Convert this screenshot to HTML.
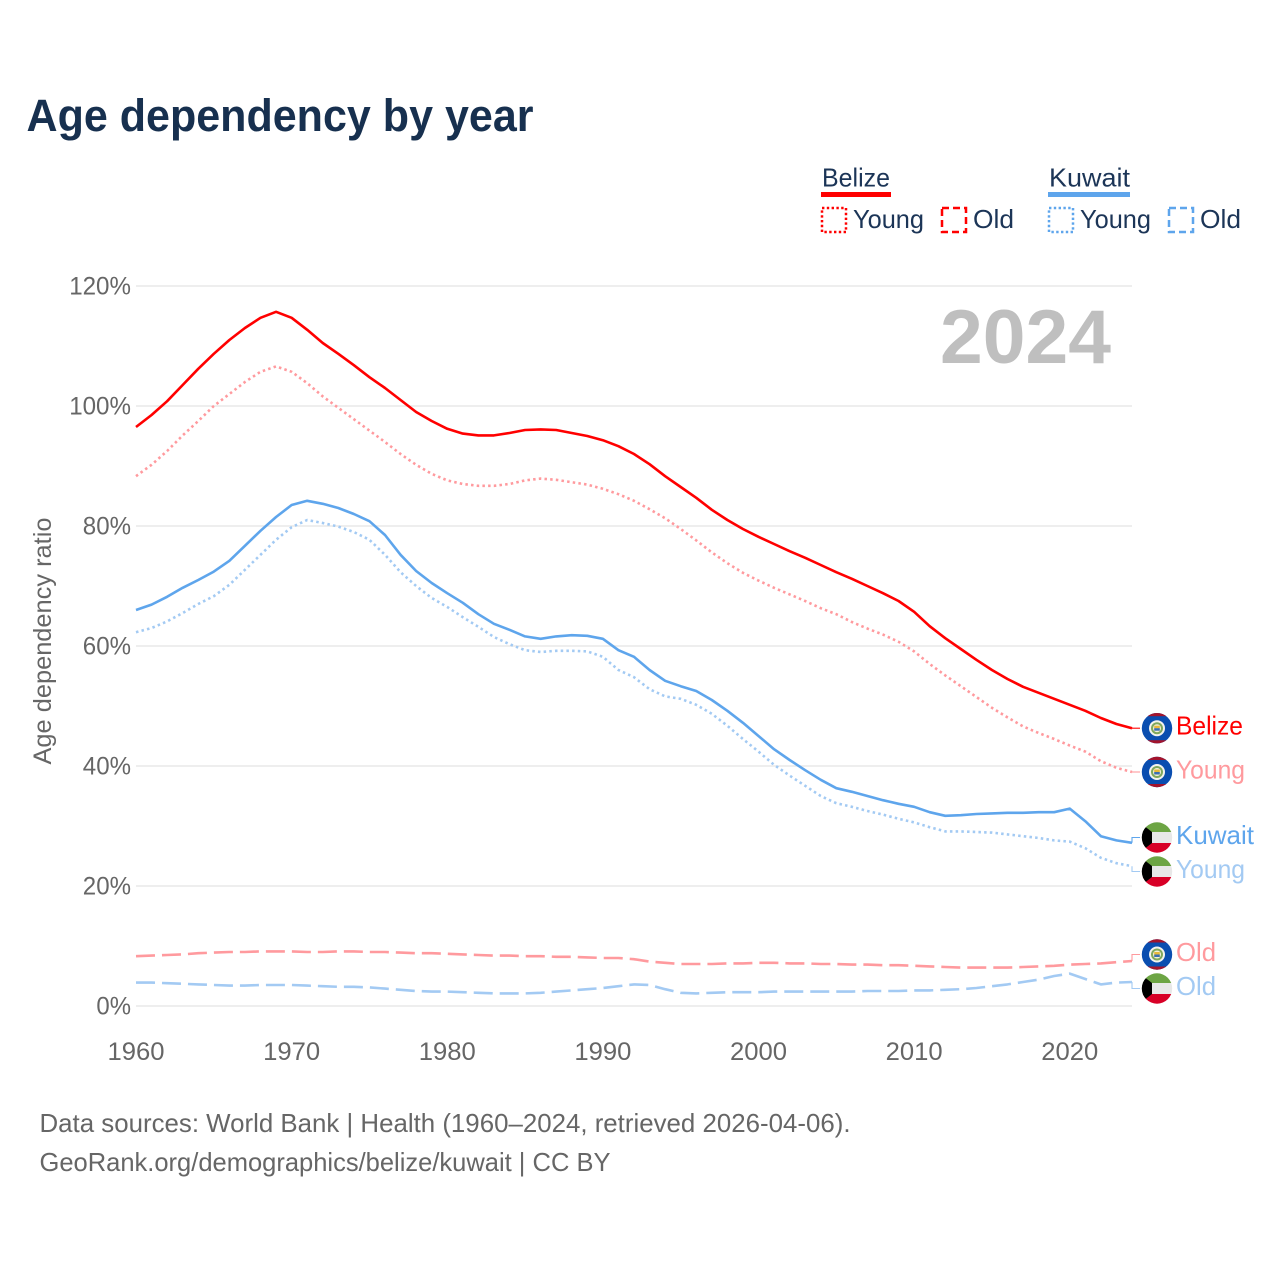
<!DOCTYPE html>
<html lang="en">
<head>
<meta charset="utf-8">
<title>Age dependency by year</title>
<style>
html,body{margin:0;padding:0;background:#fff}
svg{display:block}
text{font-family:"Liberation Sans",sans-serif}
</style>
</head>
<body>
<svg id="chart" width="1280" height="1280" viewBox="0 0 1280 1280" xmlns="http://www.w3.org/2000/svg">
<rect width="1280" height="1280" fill="#fff"/>
<text x="26.5" y="131" font-size="45" font-weight="700" fill="#17304f" textLength="507" lengthAdjust="spacingAndGlyphs">Age dependency by year</text>

<g font-size="26" fill="#1c3557">
<text x="822" y="186.5" textLength="68" lengthAdjust="spacingAndGlyphs">Belize</text>
<rect x="821" y="192" width="70" height="5" fill="#ff0000"/>
<rect x="822" y="208" width="24" height="24" fill="none" stroke="#ff0000" stroke-width="2.5" stroke-dasharray="2.4 2.4"/>
<text x="853" y="228" textLength="71" lengthAdjust="spacingAndGlyphs">Young</text>
<rect x="942" y="208" width="24" height="24" fill="none" stroke="#ff0000" stroke-width="2.5" stroke-dasharray="7 4"/>
<text x="973" y="228" textLength="41" lengthAdjust="spacingAndGlyphs">Old</text>
<text x="1049" y="186.5" textLength="81" lengthAdjust="spacingAndGlyphs">Kuwait</text>
<rect x="1048" y="192" width="82" height="5" fill="#5ea5ec"/>
<rect x="1049" y="208" width="24" height="24" fill="none" stroke="#5ea5ec" stroke-width="2.5" stroke-dasharray="2.4 2.4"/>
<text x="1080" y="228" textLength="71" lengthAdjust="spacingAndGlyphs">Young</text>
<rect x="1169" y="208" width="24" height="24" fill="none" stroke="#5ea5ec" stroke-width="2.5" stroke-dasharray="7 4"/>
<text x="1200" y="228" textLength="41" lengthAdjust="spacingAndGlyphs">Old</text>
</g>

<g id="grid"></g>
<g id="yticks"></g>
<g id="xticks"></g>
<text transform="translate(51,641) rotate(-90)" text-anchor="middle" font-size="25" fill="#666" textLength="247" lengthAdjust="spacingAndGlyphs">Age dependency ratio</text>
<text x="940" y="363" font-size="76" font-weight="700" fill="#bfbfbf" textLength="171" lengthAdjust="spacingAndGlyphs">2024</text>
<g id="lines"></g>
<g id="labels"></g>

<text x="39.5" y="1132" font-size="26" fill="#666" textLength="811" lengthAdjust="spacingAndGlyphs">Data sources: World Bank | Health (1960–2024, retrieved 2026-04-06).</text>
<text x="39.5" y="1171" font-size="26" fill="#666" textLength="571" lengthAdjust="spacingAndGlyphs">GeoRank.org/demographics/belize/kuwait | CC BY</text>
</svg>
<script>
const firstYear = 1960;
const yTickValues = [0, 20, 40, 60, 80, 100, 120];
const xTickValues = [1960, 1970, 1980, 1990, 2000, 2010, 2020];

const belizeTotal = [96.5,98.5,100.8,103.5,106.2,108.7,111,113,114.7,115.7,114.7,112.7,110.5,108.7,106.8,104.8,103,101,99,97.5,96.2,95.4,95.1,95.1,95.5,96,96.1,96,95.5,95,94.3,93.3,92,90.3,88.3,86.5,84.7,82.7,81,79.5,78.2,77,75.8,74.7,73.5,72.3,71.2,70,68.8,67.5,65.7,63.3,61.3,59.5,57.7,56,54.5,53.2,52.2,51.2,50.2,49.2,48,47,46.3];
const belizeYoung = [88.3,90.2,92.5,95.1,97.5,100,102,104,105.7,106.6,105.7,103.8,101.6,99.7,97.8,95.9,94,92,90.2,88.7,87.6,87,86.7,86.7,87,87.6,87.9,87.7,87.3,86.9,86.2,85.3,84.2,82.8,81.3,79.5,77.6,75.6,73.8,72.2,70.9,69.7,68.6,67.5,66.3,65.3,64,62.9,61.9,60.7,59.1,57,55.1,53.3,51.5,49.7,48.1,46.6,45.5,44.5,43.4,42.4,40.8,39.7,39];
const belizeOld = [8.3,8.4,8.5,8.6,8.8,8.9,9,9,9.1,9.1,9.1,9,9,9.1,9.1,9,9,8.9,8.8,8.8,8.7,8.6,8.5,8.4,8.4,8.3,8.3,8.2,8.2,8.1,8,8,7.8,7.4,7.2,7,7,7,7.1,7.1,7.2,7.2,7.1,7.1,7,7,6.9,6.9,6.8,6.8,6.7,6.6,6.5,6.4,6.4,6.4,6.4,6.5,6.6,6.7,6.9,7,7.1,7.3,7.5];
const kuwaitTotal = [66,66.9,68.2,69.7,71,72.4,74.2,76.7,79.2,81.5,83.5,84.2,83.7,83,82,80.8,78.5,75.2,72.5,70.5,68.8,67.2,65.3,63.7,62.7,61.6,61.2,61.6,61.8,61.7,61.2,59.3,58.2,56,54.2,53.3,52.5,51,49.2,47.2,45,42.8,41,39.3,37.7,36.3,35.7,35,34.3,33.7,33.2,32.3,31.7,31.8,32,32.1,32.2,32.2,32.3,32.3,32.9,30.8,28.3,27.6,27.2];
const kuwaitYoung = [62.3,63,64.1,65.5,67,68.3,70.2,72.7,75.2,77.7,79.8,81,80.5,79.9,79,77.7,75.2,72.3,70,68,66.5,64.8,63.2,61.5,60.3,59.3,59,59.2,59.2,59.1,58.2,56,54.8,52.8,51.6,51.2,50.2,48.7,46.7,44.5,42.4,40.2,38.4,36.7,35,33.8,33.2,32.5,31.9,31.2,30.6,29.8,29.1,29.1,29,28.9,28.6,28.3,28,27.6,27.4,26.3,24.7,23.8,23.3];
const kuwaitOld = [3.9,3.9,3.8,3.7,3.6,3.5,3.4,3.4,3.5,3.5,3.5,3.4,3.3,3.2,3.2,3.1,2.9,2.7,2.5,2.4,2.4,2.3,2.2,2.1,2.1,2.1,2.2,2.4,2.6,2.8,3,3.3,3.6,3.5,2.8,2.2,2.1,2.2,2.3,2.3,2.3,2.4,2.4,2.4,2.4,2.4,2.4,2.5,2.5,2.5,2.6,2.6,2.7,2.8,3,3.3,3.6,4,4.4,5,5.4,4.5,3.6,3.9,4];

const seriesList = [
  {key:'belize-total', name:'Belize', country:'belize', values:belizeTotal, color:'#ff0000', dash:null},
  {key:'belize-young', name:'Young', country:'belize', values:belizeYoung, color:'#ff9a9e', dash:'2.5 3.2'},
  {key:'kuwait-total', name:'Kuwait', country:'kuwait', values:kuwaitTotal, color:'#5ea5ec', dash:null},
  {key:'kuwait-young', name:'Young', country:'kuwait', values:kuwaitYoung, color:'#a3caf3', dash:'2.5 3.2'},
  {key:'belize-old', name:'Old', country:'belize', values:belizeOld, color:'#ff9a9e', dash:'19 7'},
  {key:'kuwait-old', name:'Old', country:'kuwait', values:kuwaitOld, color:'#a3caf3', dash:'19 7'}
];

const NS = 'http://www.w3.org/2000/svg';
function xScale(year){ return 136 + (year - 1960) * 15.5625; }
function yScale(v){ return 1006 - v * 6; }
function make(tag, attrs, parent){
  const el = document.createElementNS(NS, tag);
  for (const k in attrs) el.setAttribute(k, attrs[k]);
  parent.appendChild(el);
  return el;
}
const grid = document.getElementById('grid');
const yticks = document.getElementById('yticks');
const xticks = document.getElementById('xticks');
const linesG = document.getElementById('lines');
const labelsG = document.getElementById('labels');

yTickValues.forEach(function(v){
  const g = make('line', {x1:136, x2:1132, y1:yScale(v), y2:yScale(v), stroke:'#e9e9e9', 'stroke-width':1.5}, grid);
  
  
  const t = make('text', {x:131, y:yScale(v)+8.5, 'text-anchor':'end', 'font-size':25, fill:'#666'}, yticks);
  
  
  t.setAttribute('textLength', String(v).length * 13.6 + 21);
  t.setAttribute('lengthAdjust', 'spacingAndGlyphs');
  t.textContent = v + '%';
});
xTickValues.forEach(function(y){
  const t = make('text', {x:xScale(y), y:1060, 'text-anchor':'middle', 'font-size':25, fill:'#666'}, xticks);
  
  
  t.setAttribute('textLength', 57);
  t.setAttribute('lengthAdjust', 'spacingAndGlyphs');
  t.textContent = y;
});

/* draw order: background series first */
[seriesList[5], seriesList[4], seriesList[3], seriesList[1], seriesList[2], seriesList[0]].forEach(function(s){
  const d = s.values.map(function(v,i){ return (i ? 'L' : 'M') + xScale(firstYear+i).toFixed(2) + ' ' + yScale(v).toFixed(2); }).join(' ');
  const p = make('path', {d:d, fill:'none', stroke:s.color, 'stroke-width':2.6, 'stroke-linejoin':'round'}, linesG);
  if (s.dash) p.setAttribute('stroke-dasharray', s.dash);
  
  
});

/* dodge end labels so they keep a minimum separation */
const SEP = 34;
function dodge(items){
  const sorted = items.slice().sort(function(a,b){ return a.y0 - b.y0; });
  let clusters = sorted.map(function(it){ return {items:[it], mean:it.y0}; });
  let merged = true;
  while (merged){
    merged = false;
    for (let i=0;i<clusters.length-1;i++){
      const a = clusters[i], b = clusters[i+1];
      const aBottom = a.mean + (a.items.length-1)*SEP/2;
      const bTop = b.mean - (b.items.length-1)*SEP/2;
      if (bTop - aBottom < SEP){
        const all = a.items.concat(b.items);
        clusters.splice(i,2,{items:all, mean:all.reduce(function(s,x){return s+x.y0;},0)/all.length});
        merged = true; break;
      }
    }
  }
  clusters.forEach(function(c){
    c.items.forEach(function(it,i){ it.y = c.mean + (i-(c.items.length-1)/2)*SEP; });
  });
}
const endItems = seriesList.map(function(s){ return {s:s, y0:yScale(s.values[s.values.length-1])}; });
dodge(endItems);

let clipCount = 0;
function drawFlag(country, cx, cy, parent){
  const id = 'flag-clip-' + (clipCount++);
  const cp = make('clipPath', {id:id}, parent);
  make('circle', {cx:cx, cy:cy, r:15.2}, cp);
  const g = make('g', {'clip-path':'url(#' + id + ')'}, parent);
  
  
  const x = cx-16, y = cy-16;
  if (country === 'belize'){
    make('rect', {x:x, y:y, width:32, height:32, fill:'#0a4eb0'}, g);
    make('rect', {x:x, y:y, width:32, height:4, fill:'#a3142c'}, g);
    make('rect', {x:x, y:y+28, width:32, height:4, fill:'#a3142c'}, g);
    make('circle', {cx:cx, cy:cy, r:8, fill:'#f3f3ee'}, g);
    make('circle', {cx:cx, cy:cy, r:6, fill:'#7fa85c'}, g);
    make('circle', {cx:cx, cy:cy, r:4, fill:'#f3f0d8'}, g);
    make('rect', {x:cx-2.8, y:cy-2.5, width:5.6, height:2.5, fill:'#e8b93a'}, g);
    make('rect', {x:cx-2.8, y:cy, width:5.6, height:2.5, fill:'#3a6fb0'}, g);
  } else {
    make('rect', {x:x, y:y, width:32, height:10.5, fill:'#6da544'}, g);
    make('rect', {x:x, y:y+10.5, width:32, height:11, fill:'#e8e8e8'}, g);
    make('rect', {x:x, y:y+21.5, width:32, height:10.5, fill:'#d80027'}, g);
    make('polygon', {points:[x,y+2, x+11,y+10.5, x+11,y+21.5, x,y+30].join(' '), fill:'#000'}, g);
  }
}

endItems.forEach(function(it){
  const s = it.s;
  const conn = make('path', {d:'M1132 ' + it.y0.toFixed(1) + ' L1132 ' + it.y.toFixed(1) + ' L1140 ' + it.y.toFixed(1), fill:'none', stroke:s.color, 'stroke-width':1.1}, labelsG);
  
  
  drawFlag(s.country, 1157, it.y, labelsG);
  const widths = {Belize:67, Kuwait:78, Young:69, Old:40};
  const t = make('text', {x:1176, y:it.y+6.5, 'font-size':26, fill:s.color}, labelsG);
  
  
  t.setAttribute('textLength', widths[s.name]);
  t.setAttribute('lengthAdjust', 'spacingAndGlyphs');
  t.textContent = s.name;
});
</script>
</body>
</html>
